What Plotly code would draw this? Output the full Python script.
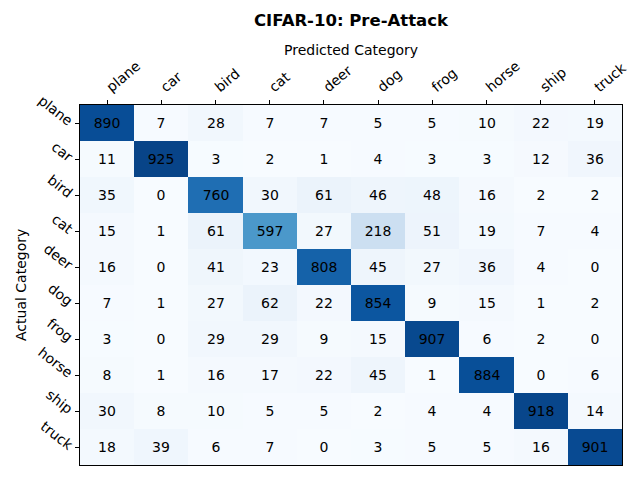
import plotly.graph_objects as go

categories = ["plane", "car", "bird", "cat", "deer", "dog", "frog", "horse", "ship", "truck"]
row_plane = [890, 7, 28, 7, 7, 5, 5, 10, 22, 19]
row_car = [11, 925, 3, 2, 1, 4, 3, 3, 12, 36]
row_bird = [35, 0, 760, 30, 61, 46, 48, 16, 2, 2]
row_cat = [15, 1, 61, 597, 27, 218, 51, 19, 7, 4]
row_deer = [16, 0, 41, 23, 808, 45, 27, 36, 4, 0]
row_dog = [7, 1, 27, 62, 22, 854, 9, 15, 1, 2]
row_frog = [3, 0, 29, 29, 9, 15, 907, 6, 2, 0]
row_horse = [8, 1, 16, 17, 22, 45, 1, 884, 0, 6]
row_ship = [30, 8, 10, 5, 5, 2, 4, 4, 918, 14]
row_truck = [18, 39, 6, 7, 0, 3, 5, 5, 16, 901]

matrix = [row_plane, row_car, row_bird, row_cat, row_deer,
          row_dog, row_frog, row_horse, row_ship, row_truck]

blues = [
    [0.0, "#f7fbff"], [0.125, "#deebf7"], [0.25, "#c6dbef"], [0.375, "#9ecae1"],
    [0.5, "#6baed6"], [0.625, "#4292c6"], [0.75, "#2171b5"], [0.875, "#08519c"],
    [1.0, "#08306b"],
]

font_family = "DejaVu Sans"

# page body has an 8px margin, so the figure is drawn 8px smaller and offset
OFF = 8
W, H = 640 - OFF, 480 - OFF
ML, MT = 80 - OFF, 105 - OFF
PW, PH = 542, 360
MR, MB = W - ML - PW, H - MT - PH

fig = go.Figure(go.Heatmap(
    z=matrix, x=categories, y=categories,
    colorscale=blues, zmin=0, zmax=1000, showscale=False,
    texttemplate="%{z}", textfont=dict(color="black", size=14, family=font_family),
    hoverinfo="skip", xgap=0, ygap=0,
))

fig.update_layout(
    width=W, height=H,
    margin=dict(l=ML, r=MR, t=MT, b=MB, autoexpand=False),
    paper_bgcolor="white", plot_bgcolor="white",
    font=dict(family=font_family, size=14, color="black"),
    showlegend=False,
)
fig.add_annotation(text="<b>CIFAR-10: Pre-Attack</b>", xref="paper", yref="paper",
                   x=0.5, y=1 + (105 - 21) / PH, showarrow=False,
                   font=dict(size=16.5), yanchor="middle", xanchor="center")
fig.add_annotation(text="Predicted Category", xref="paper", yref="paper",
                   x=0.5, y=1 + (105 - 50) / PH, showarrow=False,
                   font=dict(size=14), yanchor="middle", xanchor="center")
fig.add_annotation(text="Actual Category", xref="paper", yref="paper",
                   x=(21 - 80) / PW, y=0.5, showarrow=False, textangle=-90,
                   font=dict(size=14), yanchor="middle", xanchor="center")

fig.update_xaxes(side="top", tickangle=-40, ticks="outside", ticklen=4, tickcolor="black",
                 showline=True, linecolor="black", linewidth=1, mirror=True, automargin=False,
                 showgrid=False, zeroline=False, tickfont=dict(size=14))
fig.update_yaxes(autorange="reversed", tickangle=38, ticks="outside", ticklen=4, tickcolor="black",
                 showline=True, linecolor="black", linewidth=1, mirror=True, automargin=False,
                 showgrid=False, zeroline=False, tickfont=dict(size=14))

fig.write_html("out.html")
